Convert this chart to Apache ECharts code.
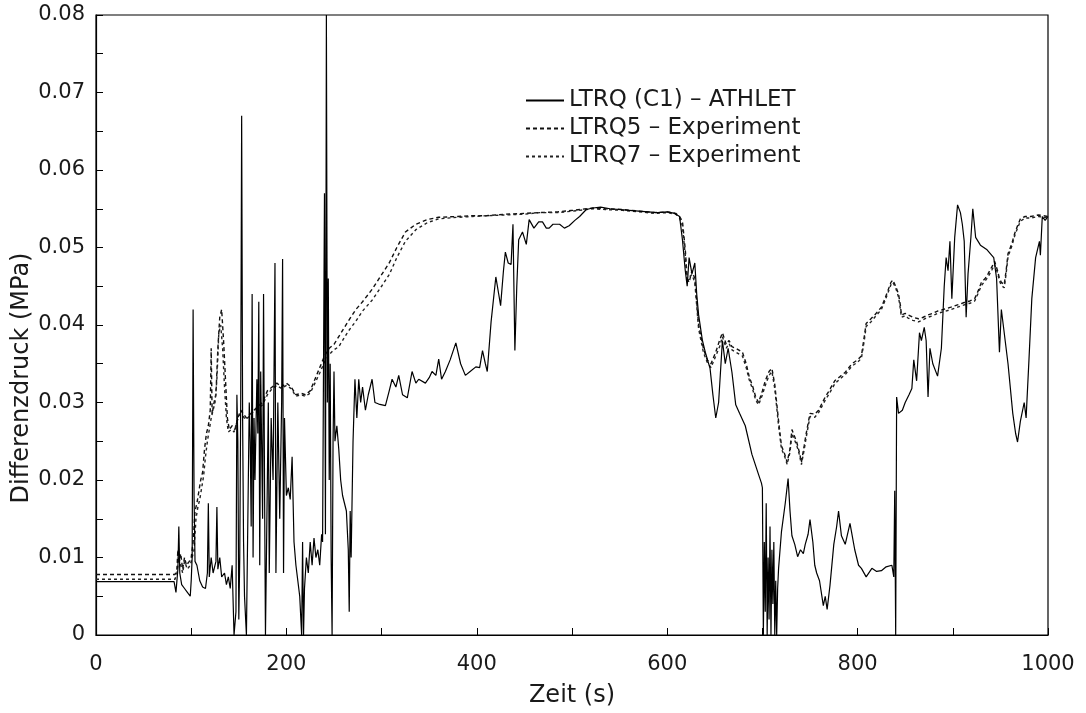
<!DOCTYPE html>
<html>
<head>
<meta charset="utf-8">
<script src="https://cdn.jsdelivr.net/npm/echarts@6/dist/echarts.min.js"></script>
<style>
html,body{margin:0;padding:0;background:#fff;}
#chart{width:1086px;height:713px;}
</style>
</head>
<body>
<div id="chart"></div>
<script>
// Series names
const seriesNames = ["LTRQ (C1) – ATHLET", "LTRQ5 – Experiment", "LTRQ7 – Experiment"];
// Axis tick labels
const xTicks = [0, 200, 400, 600, 800, 1000];
const yTicks = [0, 0.01, 0.02, 0.03, 0.04, 0.05, 0.06, 0.07, 0.08];
const xTitle = 'Zeit (s)';
const yTitle = 'Differenzdruck (MPa)';

// LTRQ (C1) – ATHLET : [Zeit (s), Differenzdruck (MPa)]
const athlet = [
[0,0.0069],[82,0.0069],[84,0.0055],[86,0.0085],[87,0.0140],[88,0.0080],[90,0.0065],[93,0.0060],[96,0.0055],[99,0.0050],
[100,0.0070],[101,0.0100],[102,0.0420],[103,0.0180],[104,0.0095],[106,0.0090],[109,0.0070],[112,0.0062],[115,0.0060],[117,0.0080],
[118,0.0170],[119,0.0075],[121,0.0100],[123,0.0080],[126,0.0095],[127,0.0165],[128,0.0085],[130,0.0100],[132,0.0075],[135,0.0080],
[137,0.0065],[139,0.0075],[141,0.0060],[143,0.0090],[145,0.0000],[146,0.0000],[147,0.0030],[148,0.0310],[149,0.0250],[150,0.0020],
[151,0.0100],[152,0.0300],[153,0.0670],[154,0.0280],[155,0.0120],[156,0.0050],[158,0.0000],[159,0.0000],[160,0.0200],[161,0.0300],
[162,0.0250],[163,0.0140],[164,0.0440],[165,0.0100],[166,0.0280],[167,0.0200],[169,0.0330],[170,0.0260],[171,0.0430],[172,0.0090],
[173,0.0340],[175,0.0150],[176,0.0440],[177,0.0200],[178,0.0000],[179,0.0000],[181,0.0300],[182,0.0080],[184,0.0280],[186,0.0200],
[188,0.0480],[189,0.0080],[191,0.0300],[193,0.0150],[195,0.0300],[196,0.0485],[197,0.0080],[198,0.0280],[200,0.0180],[202,0.0190],
[204,0.0175],[206,0.0230],[208,0.0120],[210,0.0090],[212,0.0070],[214,0.0050],[216,0.0000],[217,0.0120],[218,0.0000],[219,0.0060],
[221,0.0100],[223,0.0080],[225,0.0120],[227,0.0090],[229,0.0125],[231,0.0100],[233,0.0110],[235,0.0090],[237,0.0130],[238,0.0120],
[239,0.0350],[240,0.0570],[241,0.0130],[242,0.0800],[243,0.0300],[244,0.0460],[245,0.0200],[246,0.0350],[247,0.0100],[248,0.0000],
[249,0.0250],[250,0.0340],[251,0.0250],[253,0.0270],[255,0.0240],[257,0.0200],[259,0.0180],[261,0.0170],[263,0.0160],[265,0.0110],
[266,0.0030],[267,0.0160],[268,0.0100],[270,0.0250],[272,0.0330],[274,0.0280],[276,0.0330],[278,0.0300],[280,0.0320],[283,0.0290],
[286,0.0310],[290,0.0330],[293,0.0300],[297,0.0298],[304,0.0296],[308,0.0315],[311,0.0330],[315,0.0320],[318,0.0335],[322,0.0310],
[327,0.0306],[332,0.0340],[336,0.0325],[339,0.0330],[346,0.0325],[350,0.0332],[353,0.0340],[357,0.0335],[360,0.0356],[363,0.0330],
[367,0.0340],[372,0.0355],[378,0.0377],[383,0.0350],[388,0.0335],[393,0.0340],[399,0.0346],[403,0.0345],[406,0.0367],[409,0.0350],
[411,0.0340],[415,0.0404],[420,0.0462],[423,0.0440],[425,0.0425],[428,0.0470],[430,0.0494],[433,0.0480],[436,0.0478],[438,0.0530],
[440,0.0367],[442,0.0450],[444,0.0510],[448,0.0520],[452,0.0504],[455,0.0536],[460,0.0525],[465,0.0533],[469,0.0533],[473,0.0525],
[476,0.0525],[480,0.0530],[487,0.0530],[492,0.0525],[497,0.0528],[503,0.0535],[508,0.0540],[515,0.0549],[522,0.0551],[530,0.0552],
[540,0.0550],[550,0.0549],[560,0.0548],[570,0.0547],[580,0.0546],[590,0.0545],[600,0.0546],[608,0.0544],[613,0.0540],[616,0.0510],
[617,0.0510],[619,0.0470],[621,0.0450],[623,0.0487],[626,0.0466],[629,0.0480],[631,0.0440],[633,0.0413],[637,0.0380],[640,0.0365],
[645,0.0344],[648,0.0310],[651,0.0280],[654,0.0300],[658,0.0380],[661,0.0350],[664,0.0370],[668,0.0339],[672,0.0297],[676,0.0286],
[682,0.0270],[689,0.0233],[696,0.0207],[699,0.0196],[700,0.0190],[701,0.0000],[702,0.0120],[703,0.0030],[704,0.0170],[705,0.0000],
[706,0.0100],[707,0.0020],[708,0.0140],[709,0.0000],[710,0.0110],[711,0.0040],[712,0.0120],[713,0.0000],[714,0.0070],[715,0.0000],
[716,0.0060],[717,0.0086],[720,0.0133],[724,0.0170],[727,0.0202],[729,0.0160],[731,0.0128],[734,0.0117],[737,0.0101],[740,0.0110],
[743,0.0105],[745,0.0117],[748,0.0130],[750,0.0149],[753,0.0120],[755,0.0090],[757,0.0080],[760,0.0070],[764,0.0038],[766,0.0050],
[768,0.0033],[771,0.0064],[775,0.0117],[778,0.0140],[780,0.0160],[783,0.0128],[787,0.0117],[792,0.0144],[797,0.0110],[801,0.0090],
[804,0.0086],[809,0.0075],[815,0.0086],[820,0.0082],[825,0.0083],[830,0.0088],[836,0.0090],[838,0.0075],[839,0.0186],[840,0.0000],
[841,0.0307],[843,0.0286],[847,0.0290],[850,0.0300],[854,0.0310],[857,0.0318],[859,0.0355],[862,0.0328],[865,0.0390],[867,0.0380],
[870,0.0397],[872,0.0380],[874,0.0307],[876,0.0370],[879,0.0350],[884,0.0334],[888,0.0370],[891,0.0450],[893,0.0487],[895,0.0470],
[897,0.0508],[899,0.0434],[902,0.0513],[905,0.0555],[908,0.0545],[910,0.0530],[912,0.0508],[914,0.0410],[916,0.0466],[919,0.0513],
[921,0.0550],[924,0.0513],[929,0.0503],[936,0.0497],[943,0.0487],[946,0.0460],[949,0.0365],[951,0.0420],[953,0.0400],[958,0.0350],
[963,0.0286],[966,0.0260],[968,0.0249],[971,0.0276],[975,0.0300],[977,0.0280],[980,0.0355],[983,0.0434],[987,0.0487],[991,0.0508],
[992,0.0490],[994,0.0540],[997,0.0535],[1000,0.0540]
];

// LTRQ5 – Experiment
const ltrq5 = [
[0,0.0078],[83,0.0078],[85,0.0085],[86,0.0110],[87,0.0095],[89,0.0105],[91,0.0085],[93,0.0100],[95,0.0090],[98,0.0095],
[100,0.0100],[102,0.0120],[104,0.0160],[106,0.0170],[108,0.0185],[110,0.0200],[112,0.0210],[114,0.0240],[116,0.0260],[118,0.0270],
[120,0.0290],[121,0.0370],[122,0.0285],[124,0.0300],[126,0.0310],[128,0.0370],[130,0.0410],[132,0.0420],[134,0.0380],[136,0.0330],
[138,0.0280],[140,0.0265],[143,0.0270],[146,0.0265],[149,0.0280],[152,0.0290],[155,0.0285],[158,0.0280],[162,0.0285],[166,0.0290],
[170,0.0295],[175,0.0300],[180,0.0315],[185,0.0320],[190,0.0325],[195,0.0320],[200,0.0325],[205,0.0320],[210,0.0310],[215,0.0312],
[220,0.0310],[225,0.0315],[230,0.0330],[235,0.0345],[240,0.0360],[245,0.0370],[250,0.0375],[255,0.0385],[260,0.0395],[265,0.0405],
[273,0.0420],[280,0.0430],[290,0.0446],[300,0.0465],[308,0.0480],[316,0.0500],[325,0.0520],[336,0.0530],[348,0.0536],[360,0.0539],
[380,0.0540],[395,0.0541],[410,0.0541],[430,0.0543],[450,0.0544],[466,0.0545],[485,0.0546],[501,0.0548],[515,0.0550],[522,0.0551],
[535,0.0550],[553,0.0549],[570,0.0547],[588,0.0545],[600,0.0546],[609,0.0544],[613,0.0540],[616,0.0534],[619,0.0497],[621,0.0460],
[623,0.0455],[626,0.0470],[629,0.0460],[633,0.0400],[638,0.0370],[642,0.0355],[646,0.0350],[651,0.0365],[655,0.0380],[658,0.0390],
[662,0.0375],[665,0.0380],[668,0.0372],[672,0.0370],[679,0.0365],[683,0.0350],[686,0.0334],[690,0.0320],[693,0.0307],[696,0.0300],
[700,0.0315],[703,0.0328],[707,0.0340],[710,0.0344],[713,0.0323],[717,0.0276],[720,0.0244],[723,0.0235],[726,0.0223],[729,0.0240],
[731,0.0265],[733,0.0265],[736,0.0249],[739,0.0235],[741,0.0223],[744,0.0245],[746,0.0260],[750,0.0286],[755,0.0285],[759,0.0290],
[763,0.0300],[766,0.0307],[770,0.0315],[776,0.0328],[781,0.0333],[787,0.0339],[794,0.0350],[800,0.0355],[804,0.0360],[807,0.0385],
[809,0.0402],[814,0.0408],[818,0.0413],[825,0.0423],[829,0.0435],[832,0.0445],[835,0.0455],[837,0.0458],[840,0.0450],[843,0.0440],
[845,0.0425],[846,0.0413],[850,0.0415],[853,0.0413],[858,0.0410],[864,0.0408],[869,0.0410],[874,0.0413],[879,0.0415],[884,0.0418],
[890,0.0420],[898,0.0423],[905,0.0426],[912,0.0429],[918,0.0431],[923,0.0434],[927,0.0445],[930,0.0455],[934,0.0460],[937,0.0466],
[941,0.0475],[944,0.0482],[947,0.0470],[949,0.0460],[951,0.0455],[954,0.0452],[956,0.0470],[958,0.0492],[962,0.0505],[965,0.0518],
[968,0.0528],[971,0.0537],[976,0.0540],[982,0.0540],[990,0.0542],[1000,0.0540]
];

// LTRQ7 – Experiment
const ltrq7 = [
[0,0.0072],[83,0.0072],[85,0.0080],[87,0.0100],[89,0.0090],[91,0.0080],[93,0.0095],[96,0.0085],[99,0.0090],[101,0.0100],
[103,0.0110],[105,0.0150],[107,0.0165],[109,0.0175],[111,0.0190],[113,0.0205],[115,0.0230],[117,0.0250],[119,0.0265],[121,0.0280],
[123,0.0290],[125,0.0300],[127,0.0330],[129,0.0390],[131,0.0400],[133,0.0370],[135,0.0320],[137,0.0280],[139,0.0262],[142,0.0265],
[145,0.0262],[148,0.0275],[151,0.0285],[154,0.0283],[157,0.0278],[161,0.0282],[165,0.0288],[170,0.0292],[175,0.0297],[180,0.0310],
[185,0.0318],[190,0.0322],[195,0.0318],[200,0.0322],[205,0.0318],[210,0.0308],[215,0.0310],[220,0.0308],[225,0.0312],[230,0.0325],
[235,0.0338],[240,0.0352],[245,0.0362],[250,0.0368],[255,0.0372],[260,0.0382],[265,0.0392],[273,0.0405],[280,0.0418],[290,0.0432],
[300,0.0450],[308,0.0465],[316,0.0487],[325,0.0508],[336,0.0523],[348,0.0532],[360,0.0537],[380,0.0539],[395,0.0540],[410,0.0541],
[430,0.0542],[450,0.0543],[466,0.0545],[485,0.0545],[501,0.0547],[515,0.0549],[522,0.0550],[535,0.0549],[553,0.0548],[570,0.0546],
[588,0.0544],[600,0.0545],[609,0.0543],[613,0.0538],[616,0.0528],[619,0.0490],[621,0.0455],[623,0.0462],[626,0.0465],[629,0.0455],
[633,0.0395],[638,0.0365],[642,0.0352],[646,0.0345],[651,0.0360],[655,0.0372],[658,0.0385],[662,0.0370],[665,0.0376],[668,0.0368],
[672,0.0365],[679,0.0360],[683,0.0345],[686,0.0330],[690,0.0316],[693,0.0303],[696,0.0297],[700,0.0310],[703,0.0322],[707,0.0335],
[710,0.0340],[713,0.0318],[717,0.0270],[720,0.0240],[723,0.0232],[726,0.0220],[729,0.0236],[731,0.0260],[733,0.0262],[736,0.0245],
[739,0.0232],[741,0.0220],[744,0.0240],[746,0.0255],[750,0.0282],[755,0.0281],[759,0.0287],[763,0.0296],[766,0.0303],[770,0.0311],
[776,0.0324],[781,0.0330],[787,0.0336],[794,0.0347],[800,0.0352],[804,0.0357],[807,0.0380],[809,0.0398],[814,0.0404],[818,0.0410],
[825,0.0420],[829,0.0432],[832,0.0442],[835,0.0452],[837,0.0455],[840,0.0448],[843,0.0436],[845,0.0420],[846,0.0410],[850,0.0412],
[853,0.0409],[858,0.0406],[864,0.0404],[869,0.0407],[874,0.0410],[879,0.0412],[884,0.0415],[890,0.0417],[898,0.0420],[905,0.0423],
[912,0.0426],[918,0.0428],[923,0.0431],[927,0.0442],[930,0.0451],[934,0.0457],[937,0.0462],[941,0.0471],[944,0.0478],[947,0.0467],
[949,0.0457],[951,0.0451],[954,0.0448],[956,0.0466],[958,0.0488],[962,0.0502],[965,0.0515],[968,0.0525],[971,0.0534],[976,0.0538],
[982,0.0538],[990,0.0540],[1000,0.0538]
];

const FONT = '"DejaVu Sans", "Liberation Sans", Arial, sans-serif';
const TXT = '#1a1a1a';
const chart = echarts.init(document.getElementById('chart'), null, {renderer: 'canvas'});
chart.setOption({
  animation: false,
  backgroundColor: '#fff',
  textStyle: {fontFamily: FONT, color: TXT},
  grid: {left: 96, right: 38, top: 15, bottom: 73, show: true, borderColor: '#000', borderWidth: 1.2, backgroundColor: 'transparent'},
  legend: {
    orient: 'vertical', left: 520, top: 84, itemWidth: 38, itemHeight: 12, itemGap: 5,
    textStyle: {fontFamily: FONT, fontSize: 23, color: TXT},
    itemStyle: {color: 'rgba(0,0,0,0)', borderColor: 'rgba(0,0,0,0)', borderWidth: 0, opacity: 0},
    data: seriesNames
  },
  graphic: [{
    type: 'text', x: 22, y: 378, rotation: Math.PI / 2,
    style: {text: yTitle, fontFamily: FONT, fontSize: 24, fill: TXT, textAlign: 'center', textVerticalAlign: 'middle'}
  }],
  xAxis: {
    type: 'value', min: xTicks[0], max: xTicks[xTicks.length - 1], interval: 200,
    name: xTitle, nameLocation: 'middle', nameGap: 49,
    nameTextStyle: {fontFamily: FONT, fontSize: 24, color: TXT},
    axisLine: {lineStyle: {color: '#000', width: 1.2}},
    axisTick: {inside: true, length: 7, lineStyle: {color: '#000'}},
    minorTick: {show: true, splitNumber: 2, length: 7, lineStyle: {color: '#000'}},
    splitLine: {show: false},
    axisLabel: {fontFamily: FONT, fontSize: 21, color: TXT, margin: 19,
      formatter: v => xTicks.includes(v) ? String(v) : ''}
  },
  yAxis: {
    type: 'value', min: yTicks[0], max: yTicks[yTicks.length - 1], interval: 0.01,
    axisLine: {lineStyle: {color: '#000', width: 1.2}},
    axisTick: {inside: true, length: 7, lineStyle: {color: '#000'}},
    minorTick: {show: true, splitNumber: 2, length: 7, lineStyle: {color: '#000'}},
    splitLine: {show: false},
    axisLabel: {fontFamily: FONT, fontSize: 21, color: TXT, margin: 11,
      formatter: v => {
        const t = yTicks.find(k => Math.abs(k - v) < 1e-9);
        if (t === undefined) return '';
        return t === 0 ? '0' : t.toFixed(2);
      }}
  },
  series: [
    {name: seriesNames[0], type: 'line', data: athlet, symbol: 'none', showSymbol: false,
     lineStyle: {color: '#000', width: 1.2, type: 'solid'}, itemStyle: {color: '#000'}, z: 3},
    {name: seriesNames[1], type: 'line', data: ltrq5, symbol: 'none', showSymbol: false,
     lineStyle: {color: '#111', width: 1.4, type: [4, 3]}, itemStyle: {color: '#111'}, z: 2},
    {name: seriesNames[2], type: 'line', data: ltrq7, symbol: 'none', showSymbol: false,
     lineStyle: {color: '#222', width: 1.4, type: [3, 3]}, itemStyle: {color: '#222'}, z: 2}
  ]
});
</script>
</body>
</html>
